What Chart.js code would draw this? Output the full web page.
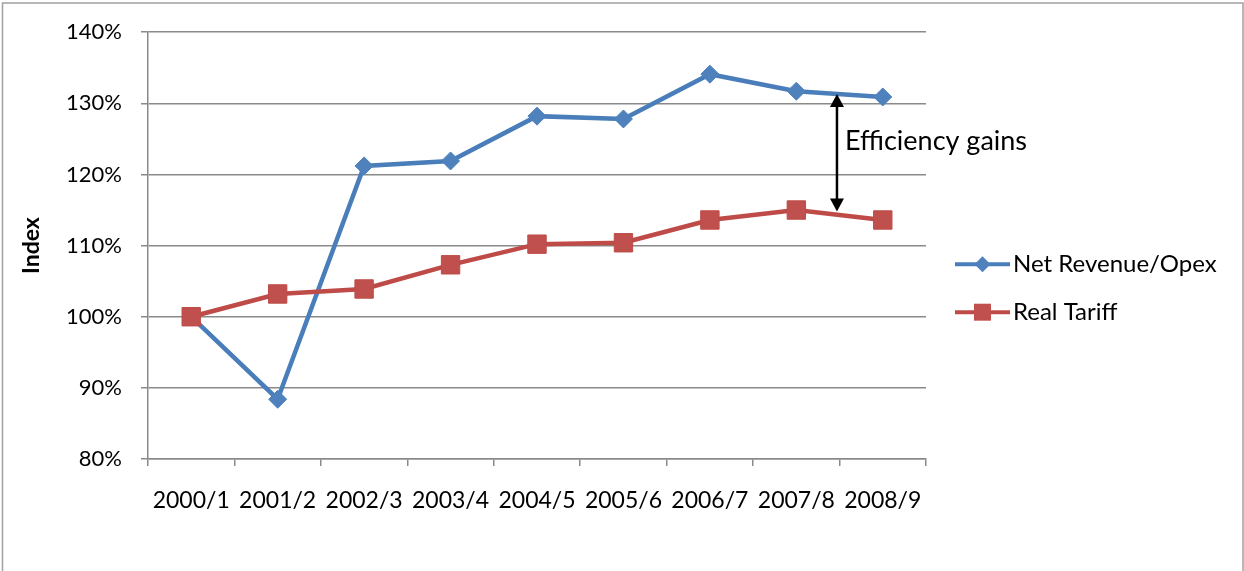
<!DOCTYPE html>
<html>
<head>
<meta charset="utf-8">
<script src="https://cdn.jsdelivr.net/npm/chart.js@4/dist/chart.umd.min.js"></script>
<style>
  html, body { margin: 0; padding: 0; background: #ffffff; }
  #wrap { width: 1244px; height: 571px; }
</style>
</head>
<body>
<div id="wrap"><canvas id="chart" width="1244" height="571"></canvas></div>
<script>
// Financial years on the horizontal axis
const categories = ['2000/1', '2001/2', '2002/3', '2003/4', '2004/5', '2005/6', '2006/7', '2007/8', '2008/9'];

// Index values, 2000/1 = 100%
const netRevenueOpex = [100, 88.4, 121.2, 121.9, 128.2, 127.8, 134.1, 131.7, 130.9];
const realTariff = [100, 103.2, 103.9, 107.3, 110.2, 110.4, 113.6, 115.0, 113.6];

const seriesNames = ['Net Revenue/Opex', 'Real Tariff'];
const yTicks = [80, 90, 100, 110, 120, 130, 140];
const yTitle = 'Index';

// Gap annotation between the two series (category position, top/bottom values)
const gapLabel = 'Efficiency gains';
const gapPosition = [7.47];
const gapRange = [131.3, 114.8];
const gapLabelValue = [124.7];

const FONT = 'Lato';
const BLUE_LINE = '#4A7EBB', BLUE_MARK = '#4F81BD';
const RED_LINE = '#BE4B48', RED_MARK = '#C0504D';
const GRID = '#8a8a8a';

function drawMarker(ctx, style, x, y, r, fill) {
  ctx.save();
  ctx.fillStyle = fill;
  ctx.beginPath();
  if (style === 'rectRot') {
    ctx.moveTo(x - r, y); ctx.lineTo(x, y - r); ctx.lineTo(x + r, y); ctx.lineTo(x, y + r);
  } else {
    const s = r * Math.SQRT1_2;
    ctx.rect(x - s, y - s, 2 * s, 2 * s);
  }
  ctx.closePath();
  ctx.fill();
  ctx.restore();
}

const framePlugin = {
  id: 'frame',
  beforeDraw(chart) {
    const ctx = chart.ctx;
    ctx.save();
    ctx.fillStyle = '#ffffff';
    ctx.fillRect(0, 0, chart.width, chart.height);
    ctx.strokeStyle = '#a0a0a0';
    ctx.lineWidth = 1.5;
    ctx.strokeRect(2.5, 3, chart.width - 3.5, chart.height + 20);
    ctx.restore();
  }
};

const gapPlugin = {
  id: 'gapArrow',
  afterDatasetsDraw(chart) {
    const {ctx, scales: {x, y}} = chart;
    const step = x.getPixelForValue(1) - x.getPixelForValue(0);
    const px = x.getPixelForValue(Math.floor(gapPosition[0])) + (gapPosition[0] % 1) * step;
    const yTop = y.getPixelForValue(gapRange[0]);
    const yBot = y.getPixelForValue(gapRange[1]);
    const head = 13, half = 7;
    ctx.save();
    ctx.strokeStyle = '#000';
    ctx.fillStyle = '#000';
    ctx.lineWidth = 2.5;
    ctx.beginPath();
    ctx.moveTo(px, yTop + head - 1);
    ctx.lineTo(px, yBot - head + 1);
    ctx.stroke();
    ctx.beginPath();
    ctx.moveTo(px, yTop); ctx.lineTo(px - half, yTop + head); ctx.lineTo(px + half, yTop + head); ctx.closePath();
    ctx.fill();
    ctx.beginPath();
    ctx.moveTo(px, yBot); ctx.lineTo(px - half, yBot - head); ctx.lineTo(px + half, yBot - head); ctx.closePath();
    ctx.fill();
    ctx.font = '27px ' + FONT;
    ctx.textAlign = 'left';
    ctx.textBaseline = 'middle';
    ctx.fillText(gapLabel, px + 8, y.getPixelForValue(gapLabelValue[0]));
    ctx.restore();
  }
};

const legendPlugin = {
  id: 'lineLegend',
  afterDraw(chart) {
    const ctx = chart.ctx;
    const area = chart.chartArea;
    const x0 = area.right + 29, lineLen = 55;
    const rows = [
      {text: seriesNames[0], line: BLUE_LINE, fill: BLUE_MARK, style: 'rectRot', r: 8},
      {text: seriesNames[1], line: RED_LINE, fill: RED_MARK, style: 'rect', r: 12}
    ];
    ctx.save();
    rows.forEach((row, i) => {
      const yy = area.top + 232 + i * 48;
      ctx.strokeStyle = row.line;
      ctx.lineWidth = 4;
      ctx.beginPath();
      ctx.moveTo(x0, yy); ctx.lineTo(x0 + lineLen, yy);
      ctx.stroke();
      drawMarker(ctx, row.style, x0 + lineLen / 2, yy, row.r, row.fill);
      ctx.fillStyle = '#000';
      ctx.font = '24px ' + FONT;
      ctx.textAlign = 'left';
      ctx.textBaseline = 'middle';
      ctx.fillText(row.text, x0 + lineLen + 3, yy);
    });
    ctx.restore();
  }
};

new Chart(document.getElementById('chart'), {
  type: 'line',
  data: {
    labels: categories,
    datasets: [
      {
        label: seriesNames[0],
        data: netRevenueOpex,
        borderColor: BLUE_LINE,
        backgroundColor: BLUE_MARK,
        borderWidth: 4.5,
        pointStyle: 'rectRot',
        pointRadius: 9,
        pointBorderWidth: 1,
        pointBorderColor: BLUE_MARK,
        tension: 0,
        order: 1
      },
      {
        label: seriesNames[1],
        data: realTariff,
        borderColor: RED_LINE,
        backgroundColor: RED_MARK,
        borderWidth: 4.5,
        pointStyle: 'rect',
        pointRadius: 13,
        pointBorderWidth: 1,
        pointBorderColor: RED_LINE,
        tension: 0,
        order: 0
      }
    ]
  },
  options: {
    responsive: false,
    animation: false,
    layout: { padding: { left: 0, right: 318, top: 31, bottom: 0 } },
    plugins: { legend: { display: false }, tooltip: { enabled: false } },
    scales: {
      x: {
        offset: true,
        grid: { display: true, drawOnChartArea: false, offset: true, tickLength: 7, color: GRID, lineWidth: 1.5 },
        border: { color: GRID, width: 1.5 },
        ticks: { color: '#000', font: { family: FONT, size: 23 }, padding: 21, maxRotation: 0, autoSkip: false },
        afterFit(scale) { scale.height = 112; }
      },
      y: {
        min: yTicks[0],
        max: yTicks[yTicks.length - 1],
        afterBuildTicks(scale) { scale.ticks = yTicks.map(v => ({ value: v })); },
        grid: { color: GRID, lineWidth: 1.5, tickLength: 7 },
        border: { color: GRID, width: 1.5 },
        ticks: { color: '#000', font: { family: FONT, size: 22 }, padding: 19, callback: v => v + '%' },
        title: { display: true, text: yTitle, color: '#000', font: { family: FONT, size: 23, weight: 'bold' }, padding: { top: 18, bottom: 0 } },
        afterFit(scale) { scale.width = 148; }
      }
    }
  },
  plugins: [framePlugin, gapPlugin, legendPlugin]
});
</script>
</body>
</html>
